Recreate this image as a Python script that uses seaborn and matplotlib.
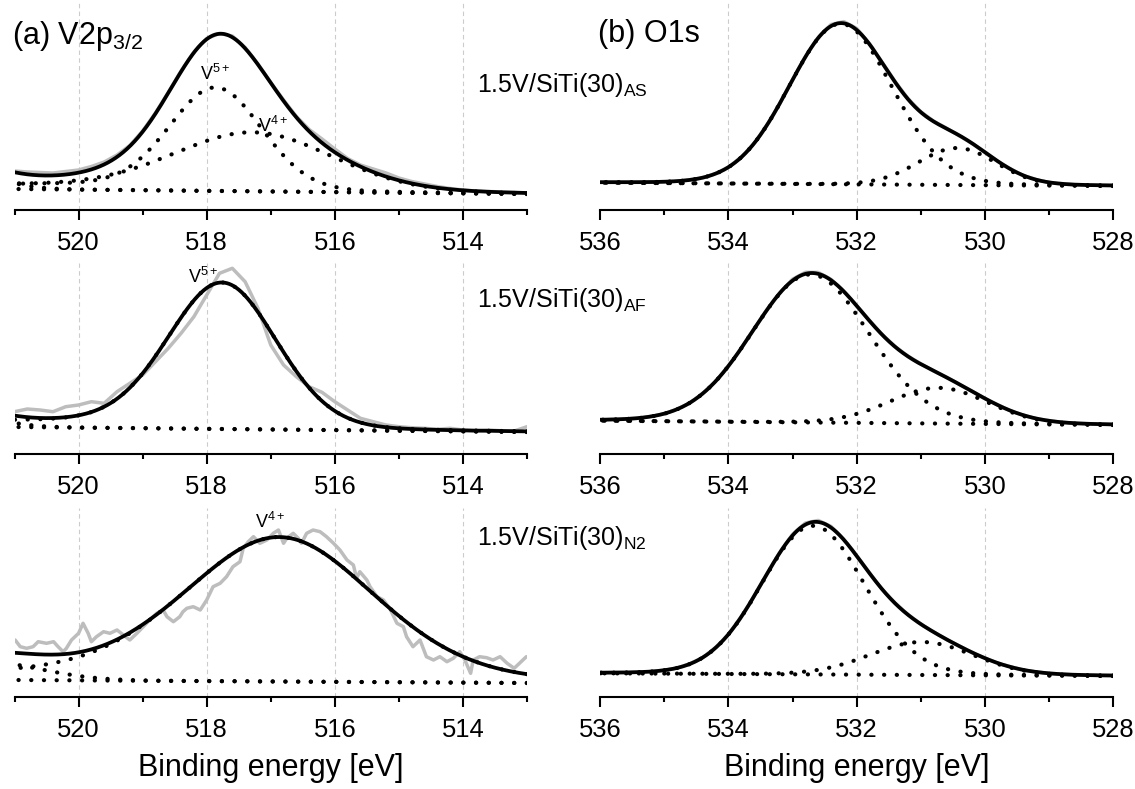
import numpy as np
import matplotlib
matplotlib.use("Agg")
import matplotlib.pyplot as plt
from matplotlib.ticker import MultipleLocator
import seaborn as sns

# ---------------- data ----------------
v_window = [521.0, 513.0]
o_window = [536.0, 528.0]

# V2p3/2, 1.5V/SiTi(30)AS : components V5+, V4+, high-BE tail
v_as_bg = [21.0, 16.0]
v_as_centers = [517.85, 517.25, 522.0]
v_as_fwhm = [1.7, 2.9, 1.5]
v_as_heights = [101.0, 57.0, 20.0]
v_as_lor = [0.1, 0.1, 0.0]
v_as_step = [5.0, 4.0, 0.0]

# V2p3/2, 1.5V/SiTi(30)AF : V5+, high-BE tail
v_af_bg = [27.0, 22.0]
v_af_centers = [517.75, 522.0]
v_af_fwhm = [2.0, 1.5]
v_af_heights = [143.5, 14.0]
v_af_lor = [0.1, 0.0]
v_af_step = [6.0, 0.0]

# V2p3/2, 1.5V/SiTi(30)N2 : V4+, high-BE tail
v_n2_bg = [17.0, 14.0]
v_n2_centers = [516.85, 521.5]
v_n2_fwhm = [3.5, 2.1]
v_n2_heights = [142.0, 18.3]
v_n2_lor = [0.2, 0.0]
v_n2_step = [5.0, 0.0]

# O1s components (support oxygen, lattice oxygen)
o_as_bg = [27.3, 24.0]
o_as_centers = [532.25, 530.43]
o_as_fwhm = [1.9, 1.43]
o_as_heights = [160.5, 37.0]

o_af_bg = [33.3, 29.0]
o_af_centers = [532.72, 530.72]
o_af_fwhm = [2.15, 1.8]
o_af_heights = [148.0, 35.7]

o_n2_bg = [23.7, 21.0]
o_n2_centers = [532.68, 530.98]
o_n2_fwhm = [1.9, 1.9]
o_n2_heights = [148.6, 33.0]
o_lor = [0.05, 0.05]
o_step = [0.0, 0.0]

# measured spectra, 0.2 eV steps
v_grid = np.round(np.arange(521.0, 512.99, -0.2), 2)
o_grid = np.round(np.arange(536.0, 527.99, -0.2), 2)

v_as_raw = [39, 38, 37.5, 37, 38.5, 40, 43.5, 48, 55, 64.5, 79, 97, 117.5, 139, 158,
            171.5, 176.5, 174, 162.5, 146, 127.5, 110, 93.5, 80.5, 71, 61, 51.5, 45,
            41, 37, 32, 28.5, 26, 23.5, 21.5, 20, 19, 18.5, 18, 17.5, 17]

v_af_raw = [42.3, 45, 44, 42.3, 47.3, 49, 52.3, 50.7, 62.3, 70.7, 79, 92.3, 105.7,
            120.7, 137.3, 159, 180.7, 185.7, 172.3, 145.7, 109, 89, 77.3, 67.3,
            61.7, 52.3, 44, 35.7, 32.3, 29, 27.3, 26.3, 25.7, 24.7, 25.7, 24, 23,
            24, 23.3, 23, 27.3]

o_as_raw = [27.6, 28.0, 27.7, 27.9, 28.1, 28.4, 28.8, 30.3, 32.2, 36.6, 42.7, 53.0,
            66.5, 85.0, 106.3, 130.4, 153.3, 172.6, 185.5, 188.4, 181.6, 166.4, 147.6,
            128.4, 111.5, 98.3, 88.9, 81.9, 74.3, 66.5, 58.2, 48.6, 41.2, 34.4, 30.5,
            27.5, 26.4, 25.2, 25.1, 24.6, 24.6]

o_af_raw = [34.1, 34.6, 35.2, 35.8, 37.8, 40.2, 45.0, 51.1, 60.9, 72.6, 88.3, 105.6,
            125.3, 144.4, 161.3, 174.8, 181.7, 181.6, 174.6, 162.9, 148.5, 133.5,
            119.4, 107.5, 97.9, 90.2, 83.0, 76.9, 69.6, 62.9, 55.4, 49.2, 43.1, 38.9,
            35.3, 33.4, 31.5, 30.9, 30.1, 30.0, 29.5]

o_n2_raw = [24.1, 24.6, 24.4, 25.1, 25.3, 27.0, 28.9, 33.4, 39.4, 49.6, 62.6, 80.5,
            100.6, 123.3, 144.5, 162.7, 174.0, 176.6, 170.6, 157.6, 141.4, 124.1,
            107.4, 93.9, 82.5, 72.8, 65.2, 57.5, 51.1, 44.4, 39.1, 33.8, 30.3, 26.9,
            25.2, 23.6, 22.9, 22.1, 22.0, 21.5, 21.6]

v_n2_raw_e = [520.99, 520.91, 520.81, 520.71, 520.63, 520.50, 520.39, 520.32, 520.24,
              520.19, 520.11, 520.00, 519.93, 519.85, 519.80, 519.72, 519.61, 519.51,
              519.40, 519.30, 519.20, 519.09, 518.99, 518.89, 518.78, 518.68, 518.62,
              518.52, 518.42, 518.37, 518.31, 518.21, 518.10, 518.00, 517.90, 517.79,
              517.69, 517.59, 517.48, 517.43, 517.35, 517.27, 517.17, 517.06, 516.96,
              516.88, 516.80, 516.75, 516.65, 516.57, 516.52, 516.44, 516.34, 516.23,
              516.13, 516.02, 515.92, 515.81, 515.71, 515.66, 515.61, 515.50, 515.45,
              515.34, 515.24, 515.13, 515.03, 514.93, 514.88, 514.78, 514.67, 514.57,
              514.46, 514.36, 514.25, 514.15, 514.05, 513.97, 513.88, 513.84, 513.74,
              513.63, 513.53, 513.42, 513.31, 513.20, 513.01]
v_n2_raw = [57, 50.3, 48.7, 50.3, 55.3, 53.7, 55.3, 50.3, 45.3, 48.7, 57, 63.7, 73.7,
            63.7, 55.3, 60.3, 65.3, 63.7, 67, 62, 57, 63.7, 70.3, 77, 83.7, 87, 80.3,
            75.3, 80.3, 85.3, 88.7, 90.3, 87, 97, 110.3, 113.7, 120.3, 130.3, 135.3,
            148.7, 155.3, 160.3, 153.7, 157, 163.7, 167, 153.7, 158.7, 163.7, 158.7,
            153.7, 163.7, 167, 165.3, 160.3, 153.7, 147, 137, 132, 118.7, 125.3, 117,
            110.3, 100.3, 97, 87, 73.7, 70.3, 60.3, 50.3, 57, 40.3, 37, 40.3, 35.3,
            38.7, 45.3, 37, 23.7, 37, 40.3, 39.3, 37, 40.3, 33.7, 28.7, 40.3]

peak_labels = ["V$^{5+}$", "V$^{4+}$"]
sample_labels = ["1.5V/SiTi(30)$_{AS}$", "1.5V/SiTi(30)$_{AF}$", "1.5V/SiTi(30)$_{N2}$"]
panel_titles = ["(a) V2p$_{3/2}$", "(b) O1s"]
x_title = "Binding energy [eV]"


def pseudo_voigt(e, c, w, a, m):
    x = (e - c) / w
    return a * ((1 - m) * np.exp(-4 * np.log(2) * x ** 2) + m / (1 + 4 * x ** 2))


def envelope(window, bg, centers, fwhm, heights, lor, steps):
    """Linear background plus Shirley-type step for each component."""
    e = np.linspace(min(window), max(window), 1601)
    base = np.interp(e, [e[0], e[-1]], [bg[1], bg[0]])
    comps = []
    for c, w, a, m, k in zip(centers, fwhm, heights, lor, steps):
        p = pseudo_voigt(e, c, w, a, m)
        cum = np.cumsum(p)
        comps.append(base + p + k * cum / cum[-1])
    fit = base + sum(c - base for c in comps)
    return e, base, comps, fit


# ---------------- style ----------------
sns.set_theme(style="white")
plt.rcParams["font.family"] = ["Liberation Sans", "DejaVu Sans"]
plt.rcParams["mathtext.fontset"] = "custom"
plt.rcParams["mathtext.rm"] = "Liberation Sans"
plt.rcParams["mathtext.it"] = "Liberation Sans:italic"
plt.rcParams["mathtext.bf"] = "Liberation Sans:bold"
plt.rcParams["mathtext.default"] = "regular"
plt.rcParams["text.color"] = "black"
plt.rcParams["axes.labelcolor"] = "black"
plt.rcParams["xtick.color"] = "black"

W, H = 1135, 789
fig = plt.figure(figsize=(W / 100, H / 100), dpi=100)

col_x = [(14.5, 527.0), (600.3, 1113.0)]
row_y = [(0, 210), (263, 454), (508, 697)]

raw_color = "#bdbdbd"
dot_style = (0, (0.05, 3.0))


def make_axes(col, row):
    x0, x1 = col_x[col]
    t, b = row_y[row]
    ax = fig.add_axes([x0 / W, 1 - b / H, (x1 - x0) / W, (b - t) / H])
    ax.set_ylim(0, b - t)
    return ax


def style_axes(ax, window, grid_ticks):
    ax.set_xlim(window[0], window[1])
    ax.xaxis.set_major_locator(MultipleLocator(2))
    ax.xaxis.set_minor_locator(MultipleLocator(1))
    ax.set_yticks([])
    ax.set_ylabel("")
    for s in ["left", "right", "top"]:
        ax.spines[s].set_visible(False)
    ax.spines["bottom"].set_color("black")
    ax.spines["bottom"].set_linewidth(1.5)
    ax.tick_params(axis="x", which="major", direction="out", length=7.2, width=1.5,
                   labelsize=18.4, pad=8, color="black", labelcolor="black", bottom=True)
    ax.tick_params(axis="x", which="minor", direction="out", length=3.8, width=1.5,
                   color="black", bottom=True)
    for t in grid_ticks:
        ax.axvline(t, color="#cccccc", lw=0.8, ls=(0, (4, 3)), zorder=0)
    ax.set_facecolor("none")


def draw_panel(ax, window, bg, centers, fwhm, heights, lor, steps, raw_e, raw_i):
    e, base, comps, fit = envelope(window, bg, centers, fwhm, heights, lor, steps)
    sns.lineplot(x=raw_e, y=raw_i, ax=ax, color=raw_color, lw=2.5,
                 estimator=None, sort=False, zorder=1)
    for comp in comps + [base]:
        sns.lineplot(x=e, y=comp, ax=ax, color="black", lw=3.0, linestyle=dot_style,
                     dash_capstyle="round", estimator=None, sort=False, zorder=2)
    sns.lineplot(x=e, y=fit, ax=ax, color="black", lw=2.7,
                 estimator=None, sort=False, zorder=3)


v_sets = [
    (v_as_bg, v_as_centers, v_as_fwhm, v_as_heights, v_as_lor, v_as_step, v_grid, v_as_raw),
    (v_af_bg, v_af_centers, v_af_fwhm, v_af_heights, v_af_lor, v_af_step, v_grid, v_af_raw),
    (v_n2_bg, v_n2_centers, v_n2_fwhm, v_n2_heights, v_n2_lor, v_n2_step, v_n2_raw_e, v_n2_raw),
]
o_sets = [
    (o_as_bg, o_as_centers, o_as_fwhm, o_as_heights, o_lor, o_step, o_grid, o_as_raw),
    (o_af_bg, o_af_centers, o_af_fwhm, o_af_heights, o_lor, o_step, o_grid, o_af_raw),
    (o_n2_bg, o_n2_centers, o_n2_fwhm, o_n2_heights, o_lor, o_step, o_grid, o_n2_raw),
]

for row in range(3):
    axl = make_axes(0, row)
    draw_panel(axl, v_window, *v_sets[row])
    style_axes(axl, v_window, [520, 518, 516, 514])
    axr = make_axes(1, row)
    draw_panel(axr, o_window, *o_sets[row])
    style_axes(axr, o_window, [534, 532, 530])
    if row == 2:
        axl.set_xlabel(x_title, fontsize=22, labelpad=7.5, color="black")
        axr.set_xlabel(x_title, fontsize=22, labelpad=7.5, color="black")
    else:
        axl.set_xlabel("")
        axr.set_xlabel("")

    fig.text(477 / W, 1 - [92, 307, 545][row] / H, sample_labels[row],
             fontsize=18, ha="left", va="baseline", color="black")

    if row == 0:
        axl.text(517.87, 130, peak_labels[0], fontsize=13, ha="center", va="baseline",
                 color="black")
        axl.text(516.97, 78.3, peak_labels[1], fontsize=13, ha="center", va="baseline",
                 color="black")
    elif row == 1:
        axl.text(518.06, 170.7, peak_labels[0], fontsize=13, ha="center", va="baseline",
                 color="black")
    else:
        axl.text(517.01, 168.7, peak_labels[1], fontsize=13, ha="center", va="baseline",
                 color="black")

fig.text(12.5 / W, 1 - 44 / H, panel_titles[0], fontsize=22, ha="left", va="baseline",
         color="black")
fig.text(598 / W, 1 - 42 / H, panel_titles[1], fontsize=22, ha="left", va="baseline",
         color="black")

fig.savefig("out.png", dpi=100)
